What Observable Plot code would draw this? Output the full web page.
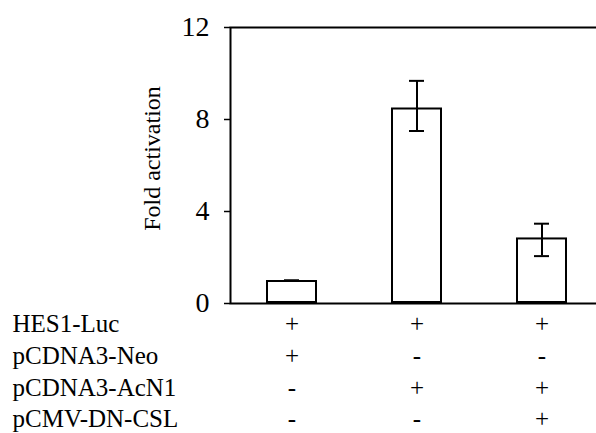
<!DOCTYPE html>
<html>
<head>
<meta charset="utf-8">
<script src="https://cdn.jsdelivr.net/npm/d3@7"></script>
<script src="https://cdn.jsdelivr.net/npm/@observablehq/plot@0.6"></script>
<style>
  html, body { margin: 0; padding: 0; background: white; }
</style>
</head>
<body>
<div id="chart"></div>
<script>
// Data
const groups = ["1", "2", "3"];
const foldActivation = [1.0, 8.5, 2.85];
const errLow = [1.0, 7.5, 2.06];
const errHigh = [1.0, 9.68, 3.47];
const yTicks = [0, 4, 8, 12];
const rowLabels = ["HES1-Luc", "pCDNA3-Neo", "pCDNA3-AcN1", "pCMV-DN-CSL"];
const hes1Luc = ["+", "+", "+"];
const pcdna3Neo = ["+", "-", "-"];
const pcdna3AcN1 = ["-", "+", "+"];
const pcmvDnCsl = ["-", "-", "+"];

const rows = [hes1Luc, pcdna3Neo, pcdna3AcN1, pcmvDnCsl];
const data = groups.map((g, i) => ({
  group: g,
  value: foldActivation[i],
  lo: errLow[i],
  hi: errHigh[i],
  signs: rows.map(r => r[i]).join("\n")
}));

const serif = "'Liberation Serif', 'Times New Roman', serif";

const chart = Plot.plot({
  width: 596,
  height: 433,
  marginLeft: 230,
  marginRight: -7,
  marginTop: 27,
  marginBottom: 130,
  style: {fontFamily: serif, fontSize: "25px", background: "white", color: "black"},
  x: {domain: groups, paddingInner: 0.59, paddingOuter: 0.28, axis: null},
  y: {domain: [0, 12], label: null},
  marks: [
    Plot.frame({stroke: "black", strokeWidth: 2}),
    Plot.axisY(yTicks, {tickSize: 6, tickPadding: 15, fontSize: 28, label: null, tickFormat: d => String(d), stroke: "black", strokeWidth: 1.5, fill: "black"}),
    Plot.barY(data, {x: "group", y: "value", fill: "white", stroke: "black", strokeWidth: 2, inset: 1}),
    Plot.ruleX(data, {x: "group", y1: "lo", y2: "hi", stroke: "black", strokeWidth: 2}),
    Plot.tickY(data, {x: "group", y: "lo", stroke: "black", strokeWidth: 2, insetLeft: 18, insetRight: 18}),
    Plot.tickY(data, {x: "group", y: "hi", stroke: "black", strokeWidth: 2, insetLeft: 18, insetRight: 18}),
    Plot.text(["Fold activation"], {frameAnchor: "left", text: d => d, rotate: -90, textAnchor: "middle", lineAnchor: "middle", dx: -78, dy: -7, fontSize: 24, fill: "black"}),
    Plot.text(data, {x: "group", frameAnchor: "bottom", text: "signs", textAnchor: "middle", lineAnchor: "top", lineHeight: 1.27, dy: 6, fontSize: 25, fill: "black"}),
    Plot.text([rowLabels.join("\n")], {frameAnchor: "bottom-left", text: d => d, textAnchor: "start", lineAnchor: "top", lineHeight: 1.27, dx: -218, dy: 6, fontSize: 25, fill: "black"})
  ]
});
document.getElementById("chart").appendChild(chart);
</script>
</body>
</html>
